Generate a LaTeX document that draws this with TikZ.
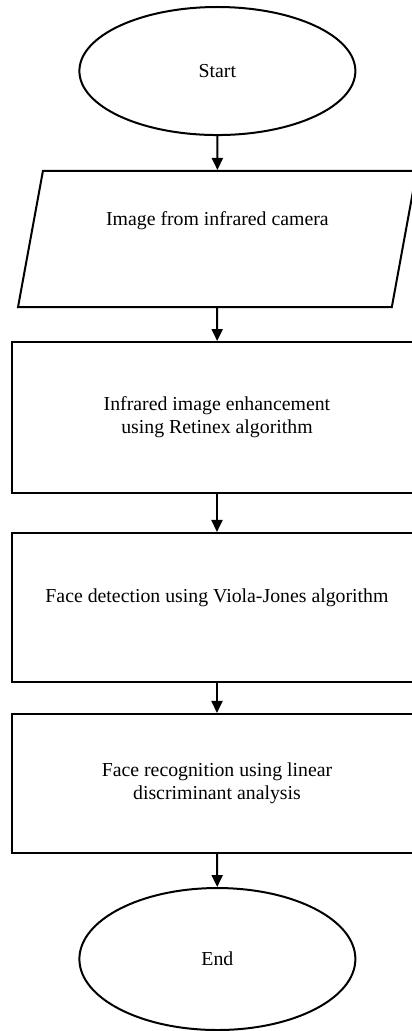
\documentclass[tikz,border=0pt]{standalone}
\usepackage{fontspec}
\setmainfont{Liberation Serif}
\usepackage{tikz}
\usetikzlibrary{shapes.geometric, arrows.meta, positioning}
\tikzset{
  terminal/.style={ellipse, draw=black, line width=1pt,
    minimum width=4.85cm, minimum height=2.25cm, inner sep=0pt,
    font=\fontsize{9.9}{11.5}\selectfont},
  io/.style={trapezium, trapezium stretches=true,
    trapezium left angle=73.6, trapezium right angle=106.4,
    draw=black, line width=1pt, minimum width=7.01cm, minimum height=2.39cm,
    inner sep=0pt, font=\fontsize{9.9}{11.5}\selectfont},
  block/.style={rectangle, draw=black, line width=1pt,
    minimum width=7.2cm, align=center, inner sep=0pt,
    font=\fontsize{9.9}{11.5}\selectfont},
  arrow/.style={-{Triangle[length=6pt, width=5.5pt]}, line width=1pt, color=black}
}
\begin{document}
\begin{tikzpicture}
  \useasboundingbox (0,0) rectangle (7.24,-18.118);

  % Terminals
  \node[terminal] (start) at (3.82,-1.248) {Start};
  \node[terminal, minimum height=2.495cm] (end) at (3.82,-16.853) {End};

  % Input
  \node[io, text depth=20pt] (camera) at (3.82,-4.2) {Image from infrared camera};

  % Processing steps
  \node[block, minimum height=2.653cm] (enhance) at (3.813,-7.337)
    {Infrared image enhancement\\using Retinex algorithm};
  \node[block, minimum height=2.618cm, text depth=12pt] (detect) at (3.813,-10.675)
    {Face detection using Viola-Jones algorithm};
  \node[block, minimum height=2.443cm] (recog) at (3.813,-13.768)
    {Face recognition using linear\\discriminant analysis};

  % Edges
  \draw[arrow] (start) -- (camera);
  \draw[arrow] (camera) -- (enhance);
  \draw[arrow] (enhance) -- (detect);
  \draw[arrow] (detect) -- (recog);
  \draw[arrow] (recog) -- (end);
\end{tikzpicture}
\end{document}
